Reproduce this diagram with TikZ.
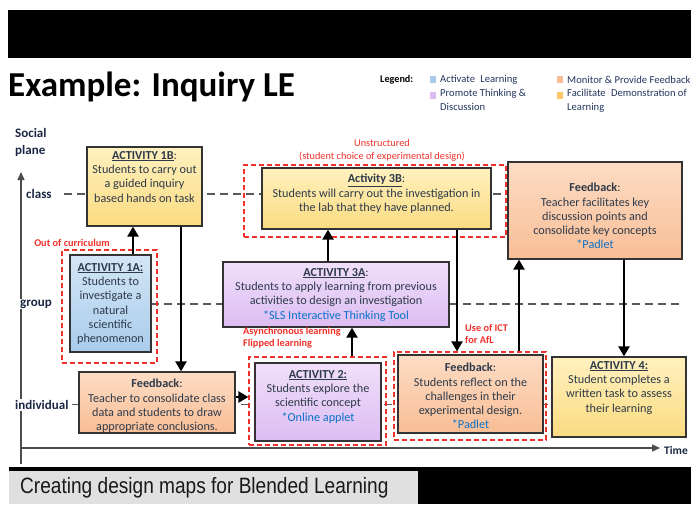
\documentclass[tikz,border=0pt]{standalone}
\usepackage{fontspec}
\setmainfont{Carlito}
\newfontfamily\capfont[FakeStretch=0.86]{Liberation Sans}
\usetikzlibrary{arrows.meta,fit}
\definecolor{yelA}{HTML}{FFF1BF}
\definecolor{yelB}{HTML}{FADB80}
\definecolor{bluA}{HTML}{D3E6F6}
\definecolor{bluB}{HTML}{A9CCEB}
\definecolor{purA}{HTML}{F0DFFA}
\definecolor{purB}{HTML}{DCBDF2}
\definecolor{orgA}{HTML}{FDDCC4}
\definecolor{orgB}{HTML}{F8BE96}
\definecolor{txt}{HTML}{2E3A4A}
\definecolor{lnk}{HTML}{0A72C8}
\definecolor{navy}{HTML}{1A2744}
\definecolor{redd}{HTML}{F0302A}
\definecolor{lgnd}{HTML}{24365E}
\begin{document}
\begin{tikzpicture}[x=1pt,y=-1pt,
  box/.style={draw=black!80, line width=1.3pt, inner sep=0pt},
  btext/.style={font=\fontsize{12.2}{14.3}\selectfont, text=txt, align=center, inner sep=0pt, anchor=north},
  reddash/.style={draw=redd, line width=1.2pt, dash pattern=on 5pt off 3pt, inner sep=0pt},
  redlbl/.style={font=\bfseries\fontsize{10.3}{12.5}\selectfont, text=redd, inner sep=0pt, align=left},
  socline/.style={draw=black!65, line width=1.1pt, dash pattern=on 8pt off 5pt},
  bigarrow/.style={line width=2.3pt, -{Triangle[width=11pt,length=10pt]}},
  axislbl/.style={font=\bfseries\fontsize{13}{17}\selectfont, text=navy, inner sep=1pt, align=left},
  lgtext/.style={font=\fontsize{10.6}{14}\selectfont, text=lgnd, inner sep=0pt, anchor=west, align=left}
]
\useasboundingbox (0,0) rectangle (691,504);
% top bar and title
\fill[black] (8,10) rectangle (691,58);
\node[anchor=base west, font=\bfseries\fontsize{35}{38}\selectfont, inner sep=0pt] (title) at (8,96) {Example: Inquiry LE};
% legend
\node[anchor=west, font=\bfseries\fontsize{10.2}{10}\selectfont, inner sep=0pt] (lg) at (380,80) {Legend:};
\fill[bluB] (430,75.5) rectangle (436,82.5);
\fill[purB] (430,91.5) rectangle (436,98.5);
\fill[orgB] (557,75.5) rectangle (563,82.5);
\fill[yelB!80!orange] (557,91.5) rectangle (563,98.5);
\node[lgtext] (lg1) at (440,80) {Activate\; Learning};
\node[lgtext, anchor=north west] (lg2) at (440,89) {Promote Thinking \&\\Discussion};
\node[lgtext] (lg3) at (567,80) {Monitor \& Provide Feedback};
\node[lgtext, anchor=north west] (lg4) at (567,89) {Facilitate\; Demonstration of\\Learning};
% social plane axis
\node[axislbl, anchor=north west, inner sep=0pt] (sp) at (15,128) {Social\\plane};
\draw[line width=1.4pt, draw=black!70, -{Triangle[width=7pt,length=8pt]}] (21,464) coordinate (vb) -- (21,172) coordinate (vt);
\draw[line width=1.4pt, draw=black!70, -{Triangle[width=7pt,length=8pt]}] (21,448) coordinate (ho) -- (660,448) coordinate (ht);
\node[anchor=west, font=\bfseries\fontsize{11.5}{12}\selectfont, text=navy, inner sep=0pt] (time) at (664,451) {Time};
\node[axislbl, anchor=west] (lclass) at (25,194) {class};
\node[axislbl, anchor=west, fill=white] (lgroup) at (19,304) {group};
\node[axislbl, anchor=west, fill=white] (lind) at (14,405) {individual};
% social-plane dashed lines
\draw[socline] (64,194) -- (508,194);
\draw[socline] (151,304) -- (682,304);
\draw[socline, line width=0.9pt] (72,404) -- (552,404);
% red dashed regions
\node[reddash, fit={(62,250) (157,363)}] (r1a) {};
\node[reddash, fit={(244,165) (506,237)}] (r3b) {};
\node[reddash, fit={(249,357) (386,445)}] (r2) {};
\node[reddash, fit={(394,352) (546,440)}] (rfb2) {};
% boxes
\node[box, top color=yelA, bottom color=yelB, fit={(87,147) (202,226)}] (a1b) {};
\node[btext] (a1bt) at (144.5,151) {\underline{\textbf{ACTIVITY 1B}}:\\Students to carry out\\a guided inquiry\\based hands on task};
\node[box, top color=bluA, bottom color=bluB, fit={(70,255) (151,352)}] (a1a) {};
\node[btext] (a1at) at (110.5,263) {\underline{\textbf{ACTIVITY 1A:}}\\Students to\\investigate a\\natural\\scientific\\phenomenon};
\node[box, top color=yelA, bottom color=yelB, fit={(262,168) (491,229)}] (a3b) {};
\node[btext] (a3bt) at (376.5,174) {\underline{\textbf{Activity 3B}}:\\Students will carry out the investigation in\\the lab that they have planned.};
\node[box, top color=purA, bottom color=purB, fit={(223,262) (449,327)}] (a3a) {};
\node[btext] (a3at) at (336,268) {\underline{\textbf{ACTIVITY 3A}}:\\Students to apply learning from previous\\activities to design an investigation\\\textcolor{lnk}{*SLS Interactive Thinking Tool}};
\node[box, top color=orgA, bottom color=orgB, fit={(508,162) (682,259)}] (fbr) {};
\node[btext] (fbrt) at (595,183) {\textbf{Feedback}:\\Teacher facilitates key\\discussion points and\\consolidate key concepts\\\textcolor{lnk}{*Padlet}};
\node[box, top color=purA, bottom color=purB, fit={(255,363) (381,441)}] (a2) {};
\node[btext] (a2t) at (318,370) {\underline{\textbf{ACTIVITY 2:}}\\Students explore the\\scientific concept\\\textcolor{lnk}{*Online applet}};
\node[box, top color=orgA, bottom color=orgB, fit={(79,372) (235,433)}] (fb1) {};
\node[btext] (fb1t) at (157,379) {\textbf{Feedback}:\\Teacher to consolidate class\\data and students to draw\\appropriate conclusions.};
\node[box, top color=orgA, bottom color=orgB, fit={(398,355) (543,433)}] (fb2) {};
\node[btext] (fb2t) at (470.5,363) {\textbf{Feedback}:\\Students reflect on the\\challenges in their\\experimental design.\\\textcolor{lnk}{*Padlet}};
\node[box, top color=yelA, bottom color=yelB, fit={(552,357) (686,437)}] (a4) {};
\node[btext] (a4t) at (619,361) {\underline{\textbf{ACTIVITY 4:}}\\Student completes a\\written task to assess\\their learning};
% red labels
\node[redlbl] (loc) at (72,243) {Out of curriculum};
\node[redlbl, font=\fontsize{10.3}{13}\selectfont, align=center, anchor=south] (lun) at (382,161) {Unstructured\\(student choice of experimental design)};
\node[redlbl, anchor=north west] (lasy) at (243,327) {Asynchronous learning\\Flipped learning};
\node[redlbl, anchor=north west] (lict) at (465,324) {Use of ICT\\for AfL};
% arrows
\draw[bigarrow] (133,0 |- a1a.north) -- (133,0 |- a1b.south);
\draw[bigarrow] (181,0 |- a1b.south) -- (181,0 |- fb1.north);
\draw[bigarrow] (fb1.east |- 0,397) -- (r2.west |- 0,397);
\draw[bigarrow] (352,0 |- r2.north) -- (352,0 |- a3a.south);
\draw[bigarrow] (328,0 |- a3a.north) -- (328,0 |- a3b.south);
\draw[bigarrow] (457,0 |- a3b.south) -- (457,0 |- rfb2.north);
\draw[bigarrow] (519,0 |- rfb2.north) -- (519,0 |- fbr.south);
\draw[bigarrow] (624,0 |- fbr.south) -- (624,0 |- a4.north);
% bottom bar
\fill[black] (9,467) rectangle (691,504);
\node[fill=black!12, inner sep=0pt, fit={(9,471) (418,504)}] (capbox) {};
\node[anchor=west, font=\capfont\fontsize{22.2}{24}\selectfont, inner sep=0pt, text=black!90] (cap) at (20,488) {Creating design maps for Blended Learning};
\end{tikzpicture}
\end{document}
